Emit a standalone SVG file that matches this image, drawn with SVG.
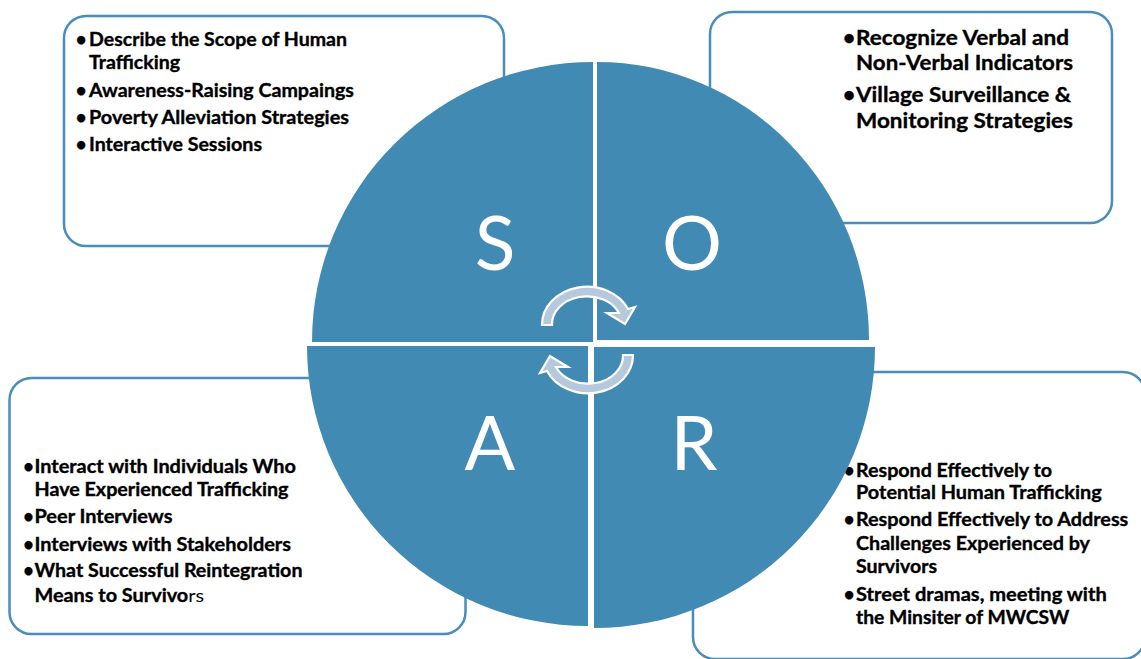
<svg xmlns="http://www.w3.org/2000/svg" width="1141" height="659" viewBox="0 0 1141 659">
<style>
.box{fill:#ffffff;stroke:#4a8dba;stroke-width:2.5}
.q{fill:#418ab3}
.big{font-family:Lato,"Liberation Sans",sans-serif;font-size:75px;fill:#ffffff;text-anchor:middle}
.t{font-family:Lato,"Liberation Sans",sans-serif;font-weight:bold;fill:#000000;stroke:#000000;stroke-width:0.35}
.b{text-anchor:middle}
.arr{fill:#b6c8db;stroke:#ffffff;stroke-width:2.2;stroke-linejoin:miter}
</style>
<rect width="1141" height="659" fill="#ffffff"/>
<g id="node-S">
<rect class="box" x="64" y="16" width="440" height="230" rx="22"/>
<g class="t" font-size="18.5">
<text class="b" x="81" y="46">•</text>
<text x="89" y="46" textLength="258" lengthAdjust="spacingAndGlyphs">Describe the Scope of Human</text>
<text x="89" y="69.3" textLength="91" lengthAdjust="spacingAndGlyphs">Trafficking</text>
<text class="b" x="81" y="97">•</text>
<text x="89" y="97" textLength="265" lengthAdjust="spacingAndGlyphs">Awareness-Raising Campaings</text>
<text class="b" x="81" y="124">•</text>
<text x="89" y="124" textLength="260" lengthAdjust="spacingAndGlyphs">Poverty Alleviation Strategies</text>
<text class="b" x="81" y="151">•</text>
<text x="89" y="151" textLength="173" lengthAdjust="spacingAndGlyphs">Interactive Sessions</text>
</g>
<path class="q" d="M 593 342 L 312 342 A 281 280 0 0 1 593 62 Z"/>
<text class="big" x="495" y="270">S</text>
</g>
<g id="node-O">
<rect class="box" x="710" y="12" width="402" height="211" rx="22"/>
<g class="t" font-size="21">
<text class="b" x="849" y="45">•</text>
<text x="856" y="45" textLength="213" lengthAdjust="spacingAndGlyphs">Recognize Verbal and</text>
<text x="856" y="70" textLength="217" lengthAdjust="spacingAndGlyphs">Non-Verbal Indicators</text>
<text class="b" x="849" y="101.7">•</text>
<text x="856" y="101.7" textLength="215" lengthAdjust="spacingAndGlyphs">Village Surveillance &amp;</text>
<text x="856" y="127.7" textLength="217" lengthAdjust="spacingAndGlyphs">Monitoring Strategies</text>
</g>
<path class="q" d="M 597 340 L 597 62 A 272 278 0 0 1 869 340 Z"/>
<text class="big" x="692" y="270">O</text>
</g>
<g id="node-A">
<rect class="box" x="9.5" y="378" width="456" height="256" rx="22"/>
<g class="t" font-size="18">
<text class="b" x="28.5" y="472.7">•</text>
<text x="34.5" y="472.7" textLength="261.5" lengthAdjust="spacingAndGlyphs">Interact with Individuals Who</text>
<text x="34.5" y="496" textLength="254" lengthAdjust="spacingAndGlyphs">Have Experienced Trafficking</text>
<text class="b" x="28.5" y="522.7">•</text>
<text x="34.5" y="522.7" textLength="138" lengthAdjust="spacingAndGlyphs">Peer Interviews</text>
<text class="b" x="28.5" y="550.7">•</text>
<text x="34.5" y="550.7" textLength="256.5" lengthAdjust="spacingAndGlyphs">Interviews with Stakeholders</text>
<text class="b" x="28.5" y="577.3">•</text>
<text x="34.5" y="577.3" textLength="268" lengthAdjust="spacingAndGlyphs">What Successful Reintegration</text>
<text x="34.5" y="601.7" textLength="169.5" lengthAdjust="spacingAndGlyphs">Means to Survivo<tspan font-weight="normal" stroke-width="0">rs</tspan></text>
</g>
<path class="q" d="M 588 346 L 588 626 A 281 280 0 0 1 307 346 Z"/>
<text class="big" x="490" y="470">A</text>
</g>
<g id="node-R">
<rect class="box" x="693" y="372" width="452" height="287" rx="22"/>
<g class="t" font-size="18.5">
<text class="b" x="849" y="476.7">•</text>
<text x="856" y="476.7" textLength="196" lengthAdjust="spacingAndGlyphs">Respond Effectively to</text>
<text x="856" y="499.3" textLength="245.7" lengthAdjust="spacingAndGlyphs">Potential Human Trafficking</text>
<text class="b" x="849" y="526">•</text>
<text x="856" y="526" textLength="272.3" lengthAdjust="spacingAndGlyphs">Respond Effectively to Address</text>
<text x="856" y="550" textLength="234" lengthAdjust="spacingAndGlyphs">Challenges Experienced by</text>
<text x="856" y="572.7" textLength="81" lengthAdjust="spacingAndGlyphs">Survivors</text>
<text class="b" x="849" y="600.7">•</text>
<text x="856" y="600.7" textLength="250.7" lengthAdjust="spacingAndGlyphs">Street dramas, meeting with</text>
<text x="856" y="624" textLength="213.3" lengthAdjust="spacingAndGlyphs">the Minsiter of MWCSW</text>
</g>
<path class="q" d="M 594 347 L 875 347 A 281 281 0 0 1 594 628 Z"/>
<text class="big" x="694" y="470">R</text>
</g>
<g id="connectors">
<path id="arrow-top" class="arr" d="M 542 325 A 45 38 0 0 1 628 309 L 635 307 L 625 324 L 607 313 L 619 313 A 35 28 0 0 0 552 325 Z"/>
<path id="arrow-bottom" class="arr" transform="rotate(180 587.5 340)" d="M 542 325 A 45 38 0 0 1 628 309 L 635 307 L 625 324 L 607 313 L 619 313 A 35 28 0 0 0 552 325 Z"/>
</g>
</svg>
